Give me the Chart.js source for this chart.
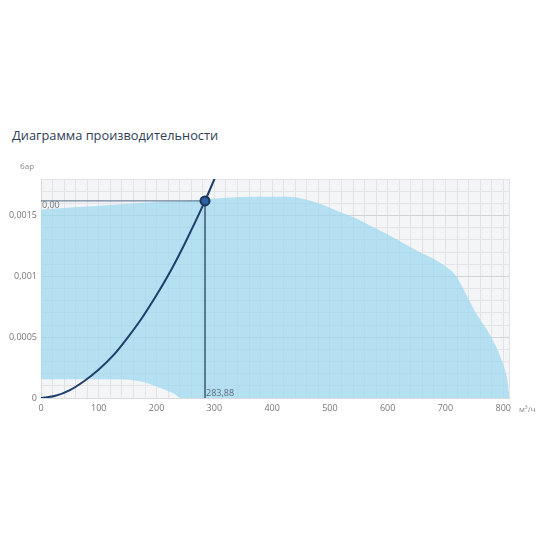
<!DOCTYPE html>
<html>
<head>
<meta charset="utf-8">
<script src="https://cdn.jsdelivr.net/npm/chart.js@4"></script>
<style>
  body { margin: 0; background: #fff; }
  #wrap { position: absolute; left: 0; top: 0; width: 550px; height: 550px; }
  h2 {
    position: absolute; left: 12px; top: 126px; margin: 0;
    font: 500 12.8px "Open Sans", "Noto Sans", sans-serif; color: #2c3e55;
  }
</style>
</head>
<body>
<h2>Диаграмма производительности</h2>
<div id="wrap"><canvas id="perfChart" width="550" height="550"></canvas></div>
<script>
// fan working range (upper edge)
const rangeTopX = [0, 100, 200, 283.88, 300, 390, 430, 455, 484, 512, 541, 570, 599, 628, 655, 677, 700, 717, 735, 749, 778, 795, 807, 811];
const rangeTopY = [0.00155, 0.00158, 0.00161, 0.00163, 0.00164, 0.001655, 0.001655, 0.001636, 0.001595, 0.00154, 0.001485, 0.001416, 0.001347, 0.00127, 0.0012, 0.00115, 0.00108, 0.00101, 0.00086, 0.00073, 0.00051, 0.00034, 0.00015, 0];
// working range (lower edge)
const rangeLowX = [0, 133, 173, 208, 231, 243, 811];
const rangeLowY = [0.000155, 0.000155, 0.000135, 0.00008, 0.000033, 0, 0];
// network curve
const curveX = [0, 25, 50, 75, 100, 125, 150, 175, 200, 225, 250, 283.88, 302];
const curveY = [0, 0.000018, 0.000065, 0.00014, 0.000234, 0.00035, 0.000497, 0.00066, 0.000846, 0.00105, 0.00128, 0.00162, 0.00182];
// operating point
const workFlow = 283.88;
const workPressure = 0.00162;
const workFlowLabel = '283,88';
const workPressureLabel = '0,00';

const xTickValues = [0, 100, 200, 300, 400, 500, 600, 700, 800];
const xTickLabels = ['0', '100', '200', '300', '400', '500', '600', '700', '800'];
const yTickValues = [0, 0.0005, 0.001, 0.0015];
const yTickLabels = ['0', '0,0005', '0,001', '0,0015'];

const toPoints = (xs, ys) => xs.map((x, i) => ({ x: x, y: ys[i] }));

const plotBackground = {
    id: 'plotBackground',
    beforeDraw(chart) {
        const a = chart.chartArea;
        const c = chart.ctx;
        c.save();
        c.fillStyle = '#f4f5f7';
        c.fillRect(a.left, a.top, a.right - a.left, a.bottom - a.top);
        c.restore();
    }
};

const extraLabels = {
    id: 'extraLabels',
    afterDraw(chart) {
        const c = chart.ctx;
        const xs = chart.scales.x;
        const ys = chart.scales.y;
        c.save();
        c.font = '9px "Open Sans", "Noto Sans", sans-serif';
        c.fillStyle = '#777';
        c.textBaseline = 'middle';
        c.textAlign = 'left';
        c.fillText(workPressureLabel, xs.getPixelForValue(0) + 1, ys.getPixelForValue(workPressure) + 5);
        c.fillStyle = '#5b6b7c';
        c.fillText(workFlowLabel, xs.getPixelForValue(workFlow) + 1, ys.getPixelForValue(0) - 5);
        c.fillStyle = '#888';
        c.font = '8px "Open Sans", "Noto Sans", sans-serif';
        c.fillText('бар', 20, 167);
        c.fillText('м³/ч', 519, 410);
        c.restore();
    }
};

const isMajorY = v => yTickValues.some(t => Math.abs(t - v) < 1e-9);

// minor grid every 20 m³/h, plus the right edge
function buildFlowTicks(scale) {
    const ticks = [];
    for (let v = 0; v <= 800; v += 20) ticks.push({ value: v });
    ticks.push({ value: scale.max });
    scale.ticks = ticks;
}

new Chart(document.getElementById('perfChart').getContext('2d'), {
    type: 'line',
    data: {
        datasets: [
            {
                label: 'point',
                data: [{ x: workFlow, y: workPressure }],
                showLine: false,
                pointRadius: 4.5,
                pointBackgroundColor: '#2f62a0',
                pointBorderColor: '#1b365c',
                pointBorderWidth: 2,
                order: 0
            },
            {
                label: 'network',
                data: toPoints(curveX, curveY),
                borderColor: '#1f3e6b',
                borderWidth: 2,
                pointRadius: 0,
                cubicInterpolationMode: 'monotone',
                fill: false,
                order: 1
            },
            {
                label: 'cross',
                data: [{ x: 0, y: workPressure }, { x: workFlow, y: workPressure }, { x: workFlow, y: 0 }],
                borderColor: '#4f6a86',
                borderWidth: 1,
                pointRadius: 0,
                tension: 0,
                fill: false,
                order: 2
            },
            {
                label: 'rangeTop',
                data: toPoints(rangeTopX, rangeTopY),
                borderWidth: 0,
                borderColor: 'rgba(0,0,0,0)',
                backgroundColor: 'rgba(155, 216, 239, 0.72)',
                pointRadius: 0,
                cubicInterpolationMode: 'monotone',
                fill: { target: 4 },
                order: 3
            },
            {
                label: 'rangeLow',
                data: toPoints(rangeLowX, rangeLowY),
                borderWidth: 0,
                borderColor: 'rgba(0,0,0,0)',
                pointRadius: 0,
                cubicInterpolationMode: 'monotone',
                fill: false,
                order: 4
            }
        ]
    },
    options: {
        responsive: false,
        animation: false,
        layout: { padding: { top: 179, right: 41, bottom: 122, left: 0 } },
        plugins: {
            legend: { display: false },
            tooltip: { enabled: false }
        },
        scales: {
            x: {
                type: 'linear',
                min: 0,
                max: 810,
                afterBuildTicks: buildFlowTicks,
                afterFit: scale => { scale.height = 30; },
                grid: { color: '#e1e2e5', drawTicks: false },
                border: { color: '#d8d9dc' },
                ticks: {
                    padding: 5,
                    autoSkip: false,
                    maxRotation: 0,
                    color: '#777',
                    font: { family: '"Open Sans", "Noto Sans", sans-serif', size: 9 },
                    callback: v => {
                        const i = xTickValues.indexOf(v);
                        return i >= 0 ? xTickLabels[i] : '';
                    }
                }
            },
            y: {
                min: 0,
                max: 0.0018,
                afterFit: scale => { scale.width = 41; },
                grid: {
                    color: ctx => isMajorY(ctx.tick.value) ? '#d0d2d6' : '#e3e4e7',
                    drawTicks: false
                },
                border: { color: '#d8d9dc' },
                ticks: {
                    stepSize: 0.0001,
                    padding: 4,
                    autoSkip: false,
                    color: '#777',
                    font: { family: '"Open Sans", "Noto Sans", sans-serif', size: 9 },
                    callback: v => {
                        const i = yTickValues.findIndex(t => Math.abs(t - v) < 1e-9);
                        return i >= 0 ? yTickLabels[i] : '';
                    }
                }
            }
        }
    },
    plugins: [plotBackground, extraLabels]
});
</script>
</body>
</html>
